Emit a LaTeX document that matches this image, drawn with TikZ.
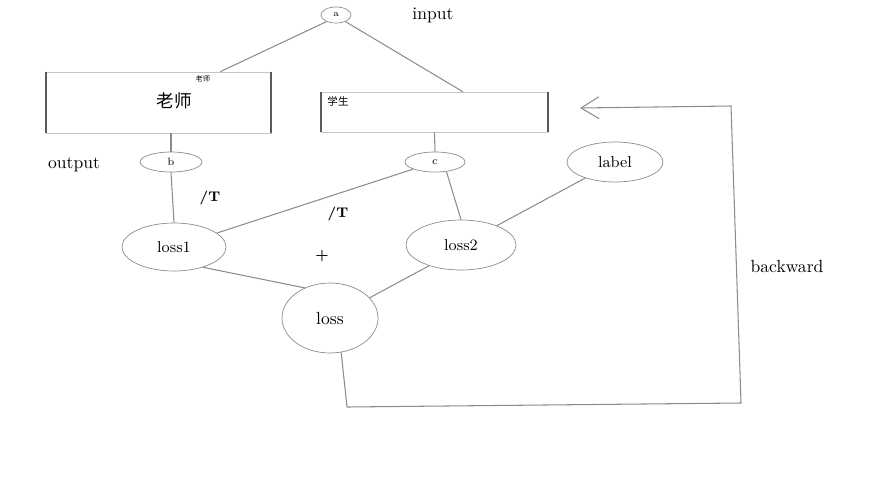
\documentclass[tikz,border=0pt]{standalone}
\usepackage{fontspec}
\newfontfamily\cjk{Noto Sans CJK SC}
\usetikzlibrary{calc,arrows.meta,shapes.geometric}

\definecolor{linegray}{RGB}{140,140,140}
\definecolor{sidegray}{RGB}{90,90,90}

\tikzset{
  oval/.style={draw=linegray, ellipse, inner sep=0pt, font=\fontsize{9}{10}\selectfont},
  box/.style={draw=linegray!50, inner sep=0pt},
  side/.style={draw=sidegray, line width=1pt},
  wire/.style={draw=linegray, line width=0.6pt},
  word/.style={font=\fontsize{10}{12}\selectfont}
}

\begin{document}
\begin{tikzpicture}[x=0.02cm, y=-0.02cm]
\useasboundingbox (0,0) rectangle (884,477);

% encoders
\node[box, minimum width=4.5cm, minimum height=1.22cm] (teacher) at (158.5,102.5) {};
\node[box, minimum width=4.54cm, minimum height=0.8cm] (student) at (434.5,112) {};
\draw[side] (teacher.north west) -- (teacher.south west);
\draw[side] (teacher.north east) -- (teacher.south east);
\draw[side] (student.north west) -- (student.south west);
\draw[side] (student.north east) -- (student.south east);
\node[font=\cjk\fontsize{10}{12}\selectfont] (tname) at (174,101) {老师};
\node[font=\cjk\fontsize{4}{4}\selectfont] (tsmall) at (203,79) {老师};
\node[font=\cjk\fontsize{6}{6}\selectfont] (sname) at (338,101) {学生};

% nodes
\node[oval, minimum width=0.6cm, minimum height=0.32cm, font=\fontsize{5}{5}\selectfont] (a) at (336,15) {a};
\node[oval, minimum width=1.24cm, minimum height=0.4cm, font=\fontsize{6}{6}\selectfont] (b) at (171,162) {b};
\node[oval, minimum width=1.2cm, minimum height=0.4cm, font=\fontsize{6}{6}\selectfont] (c) at (435,162) {c};
\node[oval, minimum width=1.92cm, minimum height=0.8cm] (label) at (615,162) {label};
\node[oval, minimum width=2.08cm, minimum height=0.96cm] (loss1) at (174,247) {loss1};
\node[oval, minimum width=2.2cm, minimum height=1cm] (loss2) at (461,245) {loss2};
\node[oval, minimum width=1.92cm, minimum height=1.4cm, font=\fontsize{10}{12}\selectfont] (loss) at (330,318) {loss};

% texts
\node[word] (input) at (433,15) {input};
\node[word] (output) at (74,165) {output};
\node[word] (backward) at (787,266) {backward};
\node[font=\fontsize{8}{9}\selectfont\bfseries] (t1) at (210,198) {/T};
\node[font=\fontsize{8}{9}\selectfont\bfseries] (t2) at (338,214) {/T};
\node[font=\fontsize{8}{9}\selectfont\bfseries] (plus) at (322,256) {+};

% edges
\draw[wire] (a.215) -- ($(teacher.north east)+(-51,0)$);
\draw[wire] (a.-35) -- ($(student.north west)+(142,0)$);
\draw[wire] (teacher.south -| b) -- (b.north);
\draw[wire] (student.south) -- (c.north);
\draw[wire] (b.south) -- (loss1.north);
\draw[wire] (c) -- (loss1);
\draw[wire] (c.-40) -- (loss2.north);
\draw[wire] (label) -- (loss2);
\draw[wire] (loss1.-35) -- (loss.130);
\draw[wire] (loss2.-147) -- (loss.27);

% backward path
\coordinate (bl) at (347,407);
\coordinate (br) at (741,403);
\coordinate (tr) at (731,106);
\coordinate (tip) at (580,108);
\draw[wire, -{Straight Barb[length=3.6mm, width=4.4mm]}] (loss.-72) -- (bl) -- (br) -- (tr) -- (tip);
\end{tikzpicture}
\end{document}
